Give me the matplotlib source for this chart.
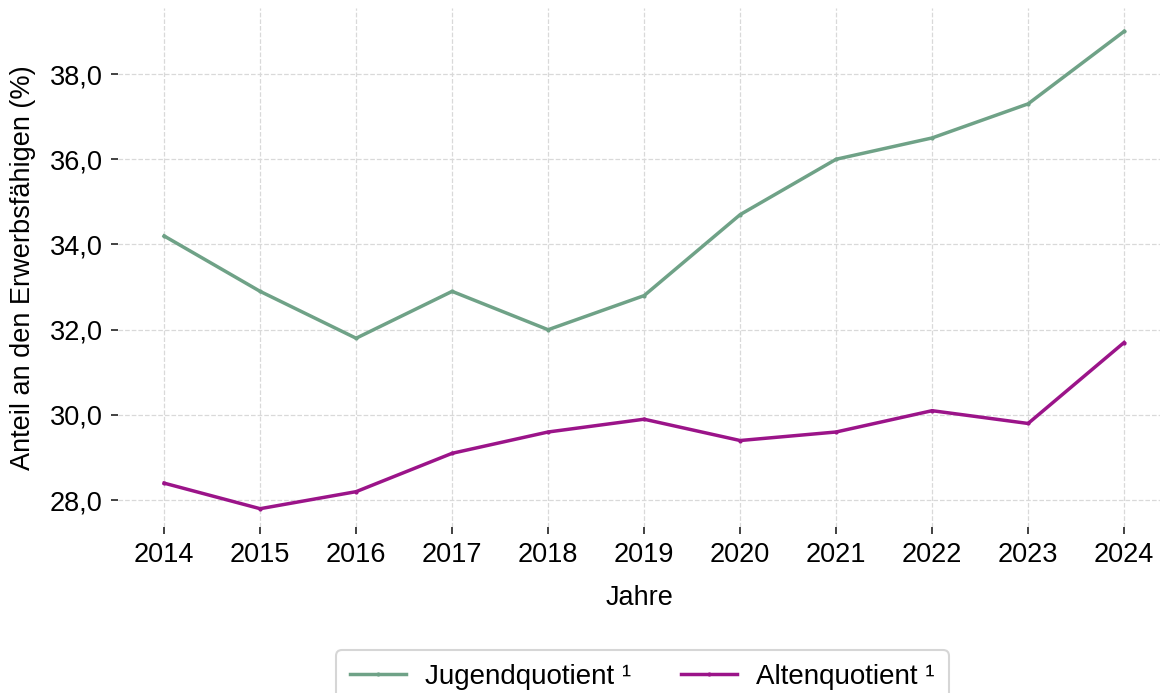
import matplotlib.pyplot as plt
from matplotlib.ticker import FuncFormatter

plt.rcParams['font.family'] = ['Liberation Sans', 'DejaVu Sans']

jahre = [2014, 2015, 2016, 2017, 2018, 2019, 2020, 2021, 2022, 2023, 2024]
jugendquotient = [34.2, 32.9, 31.8, 32.9, 32.0, 32.8, 34.7, 36.0, 36.5, 37.3, 39.0]
altenquotient = [28.4, 27.8, 28.2, 29.1, 29.6, 29.9, 29.4, 29.6, 30.1, 29.8, 31.7]
yticks = [28, 30, 32, 34, 36, 38]

fig = plt.figure(figsize=(11.63, 6.93), dpi=100)
ax = fig.add_axes([0.1015, 0.2395, 0.896, 0.749])

ax.plot(jahre, jugendquotient, color='#6fa287', linewidth=2.5, marker='o', markersize=2,
        label='Jugendquotient ¹')
ax.plot(jahre, altenquotient, color='#9b1489', linewidth=2.5, marker='o', markersize=2,
        label='Altenquotient ¹')

ax.set_xlim(2013.52, 2024.375)
ax.set_ylim(27.37, 39.55)
ax.set_xticks(jahre)
ax.set_yticks(yticks)
ax.yaxis.set_major_formatter(FuncFormatter(lambda v, p: f'{v:.1f}'.replace('.', ',')))

ax.grid(True, color='#d9d9d9', linestyle='--', linewidth=0.9)
ax.set_axisbelow(True)
for s in ax.spines.values():
    s.set_visible(False)
ax.tick_params(axis='both', labelsize=19.5, length=5, width=1.3, color='#333333', pad=6)

ax.set_xlabel('Jahre', fontsize=19.5, labelpad=12)
ax.set_ylabel('Anteil an den Erwerbsfähigen (%)', fontsize=19.5, labelpad=10)

leg = fig.legend(loc='upper center', bbox_to_anchor=(0.5525, 0.062), ncol=2, fontsize=20,
                 frameon=True, edgecolor='#cccccc', fancybox=True, handlelength=2.0,
                 handletextpad=0.7, columnspacing=1.8, borderpad=0.5, borderaxespad=0)
leg.get_frame().set_linewidth(1.5)

fig.savefig('out.png', dpi=100)
